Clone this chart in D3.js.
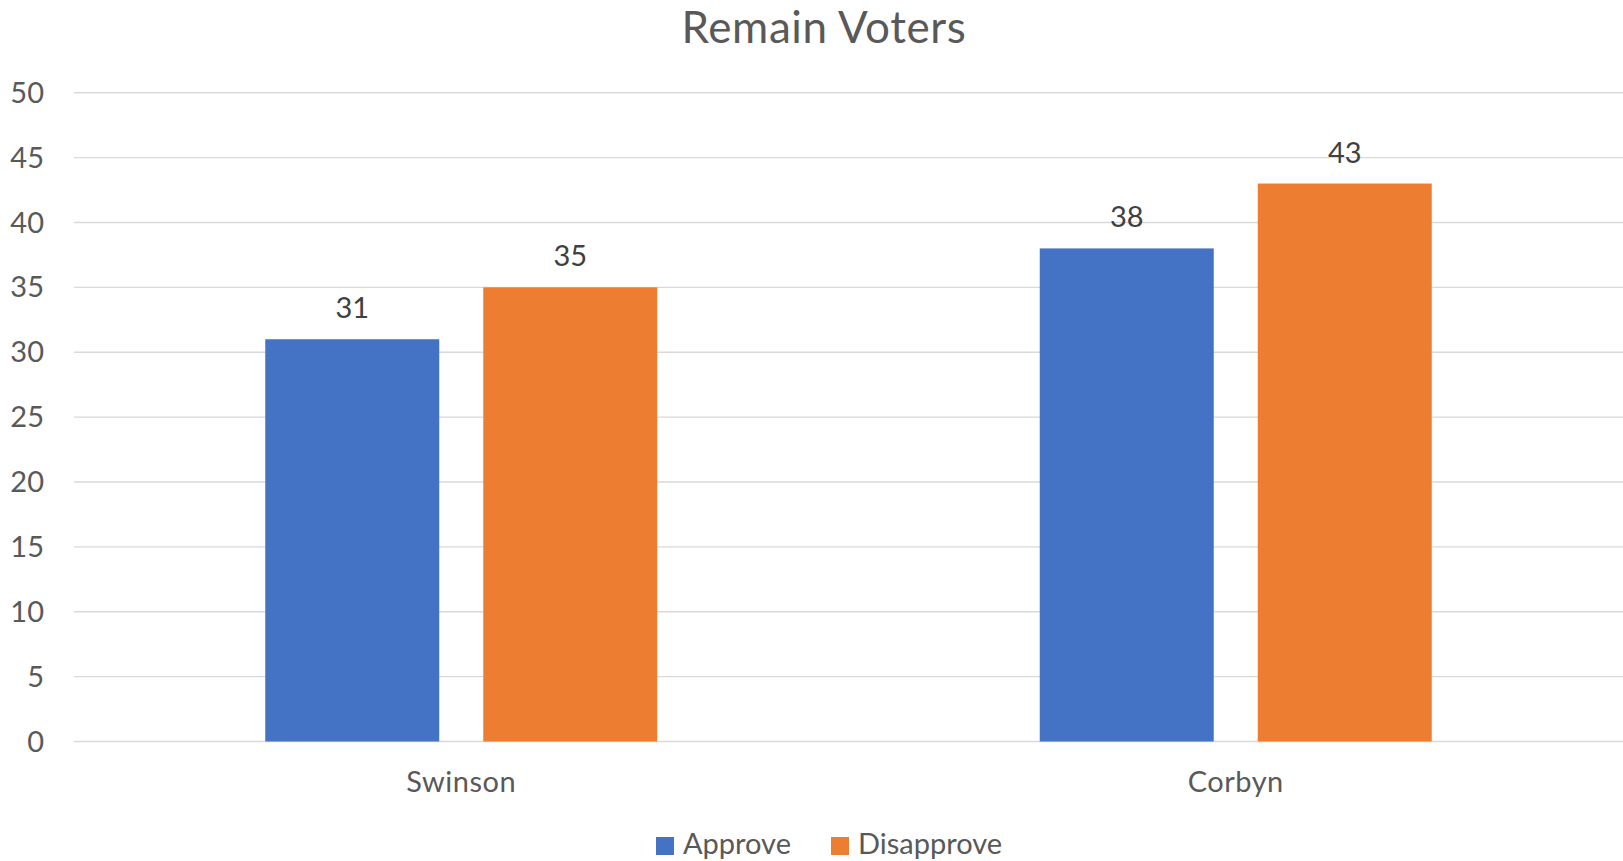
<!DOCTYPE html>
<html><head><meta charset="utf-8">
<script src="https://cdn.jsdelivr.net/npm/d3@7"></script>
<style>body{margin:0;background:#fff;}svg{display:block;}</style>
</head><body>
<svg id="c" width="1623" height="861"></svg>
<script>
const categories = ["Swinson", "Corbyn"];
const seriesNames = ["Approve", "Disapprove"];
const approve = [31, 38];
const disapprove = [35, 43];
const yTicks = [0, 5, 10, 15, 20, 25, 30, 35, 40, 45, 50];
const colors = ["#4472C4", "#ED7D31"];
const title = "Remain Voters";

(function () {
const font = "Lato, 'Open Sans', sans-serif";
const svg = d3.select("#c");
const plotLeft = 74, plotRight = 1623, plotTop = 92.7, plotBottom = 741.5;

const y = d3.scaleLinear().domain([0, 50]).range([plotBottom, plotTop]);
const x0 = d3.scaleBand().domain(categories).range([plotLeft, plotRight]).paddingInner(0).paddingOuter(0);
const barW = 174, gap = 44;
const groupW = 2 * barW + gap;
const x1 = d3.scaleBand().domain(seriesNames).range([0, groupW]).paddingInner(gap / (barW + gap)).paddingOuter(0);

svg.append("g").selectAll("line").data(yTicks).join("line")
  .attr("x1", plotLeft).attr("x2", plotRight)
  .attr("y1", d => y(d)).attr("y2", d => y(d))
  .attr("stroke", "#d9d9d9").attr("stroke-width", 1.4);

svg.append("g").selectAll("text").data(yTicks).join("text")
  .attr("x", 44).attr("y", d => y(d)).attr("dy", "0.35em")
  .attr("text-anchor", "end").attr("font-family", font).attr("font-size", 29)
  .attr("fill", "#595959").text(d => d);

const data = categories.map((c, i) => ({cat: c, vals: [approve[i], disapprove[i]]}));

const groups = svg.append("g").selectAll("g").data(data).join("g")
  .attr("transform", d => `translate(${x0(d.cat) + (x0.bandwidth() - groupW) / 2},0)`);

groups.selectAll("rect").data(d => d.vals.map((v, j) => ({s: seriesNames[j], v, j}))).join("rect")
  .attr("x", d => x1(d.s)).attr("width", x1.bandwidth())
  .attr("y", d => y(d.v)).attr("height", d => y(0) - y(d.v))
  .attr("fill", d => colors[d.j]);

groups.selectAll("text").data(d => d.vals.map((v, j) => ({s: seriesNames[j], v, j}))).join("text")
  .attr("x", d => x1(d.s) + x1.bandwidth() / 2).attr("y", d => y(d.v) - 21)
  .attr("text-anchor", "middle").attr("font-family", font).attr("font-size", 29)
  .attr("fill", "#404040").text(d => d.v);

svg.append("g").selectAll("text").data(categories).join("text")
  .attr("x", d => x0(d) + x0.bandwidth() / 2).attr("y", 791.5)
  .attr("text-anchor", "middle").attr("font-family", font).attr("font-size", 29)
  .attr("fill", "#595959").attr("letter-spacing", 0.5).text(d => d);

svg.append("text").attr("x", 824).attr("y", 43)
  .attr("text-anchor", "middle").attr("font-family", font).attr("font-size", 44)
  .attr("letter-spacing", 0.6)
  .attr("fill", "#595959").text(title);

const legendX = [656, 831];
const lg = svg.append("g").selectAll("g").data(seriesNames).join("g")
  .attr("transform", (d, i) => `translate(${legendX[i]},837)`);
lg.append("rect").attr("width", 18).attr("height", 18).attr("fill", (d, i) => colors[i]);
lg.append("text").attr("x", 27).attr("y", 16.5)
  .attr("font-family", font).attr("font-size", 29).attr("fill", "#595959").text(d => d);
})();
</script>
</body></html>
